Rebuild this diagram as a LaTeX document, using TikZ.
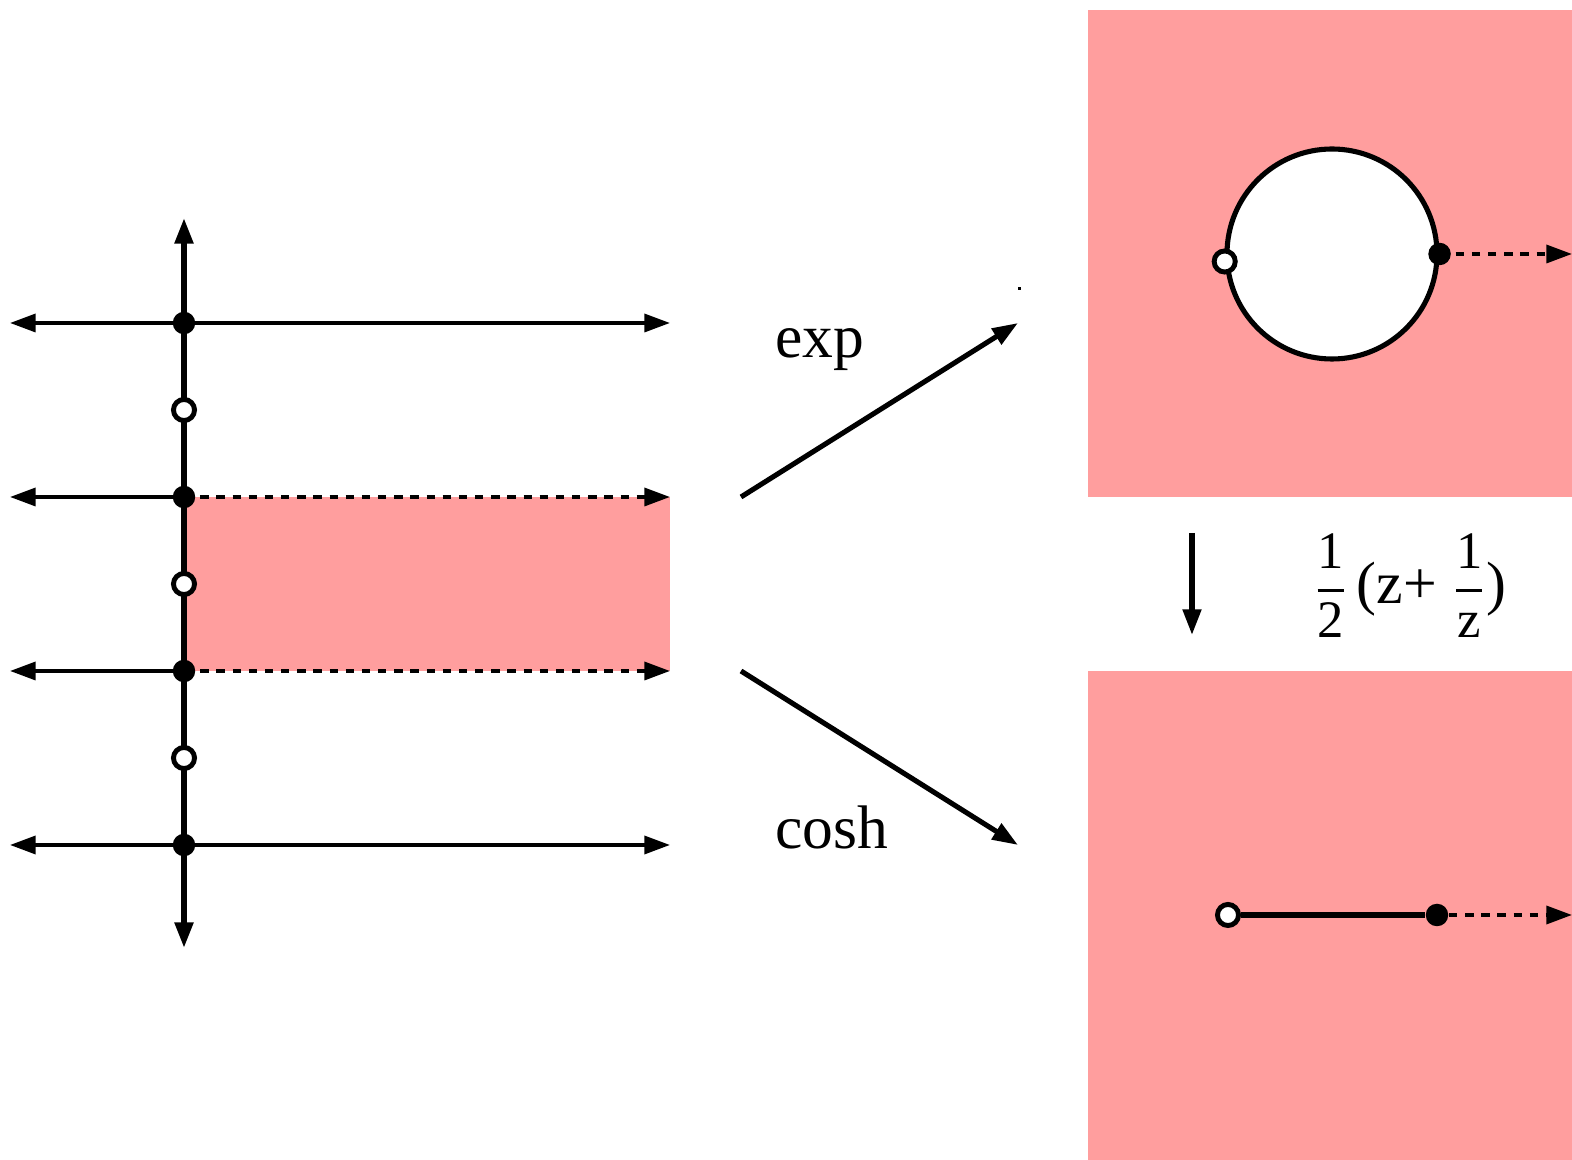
\documentclass[tikz,border=0pt]{standalone}
\usepackage{amsmath}
\usepackage{fontspec}
\setmainfont{Liberation Serif}
\usepackage{tikz}
\usetikzlibrary{arrows.meta, positioning, calc}

\definecolor{region}{RGB}{255,158,158}

\tikzset{
    tip/.style={-{Triangle[length=7.3pt,width=5.1pt]}},
    axisline/.style={line width=1.6pt},
    gridline/.style={line width=1.05pt},
    dashline/.style={line width=1.05pt, dash pattern=on 2.4pt off 2.2pt},
    mapline/.style={line width=1.45pt},
    fdot/.style={circle, fill=black, inner sep=0pt, minimum size=6.4pt},
    odot/.style={circle, draw=black, fill=white, line width=1.4pt, inner sep=0pt, minimum size=6.0pt},
    maplabel/.style={font=\fontsize{17.5}{20}\selectfont}
}

\begin{document}
\begin{tikzpicture}[x=1cm, y=1cm]
    \useasboundingbox (0,0) rectangle (15.72,11.60);

    % Strip in the z-plane
    \fill[region] (1.84,4.89) rectangle (6.70,6.63);

    % Target planes
    \fill[region] (10.88,6.63) rectangle (15.72,11.50);
    \fill[region] (10.88,0) rectangle (15.72,4.89);

    % Points on the imaginary axis
    \coordinate (top) at (1.84,9.42);
    \coordinate (bot) at (1.84,2.12);
    \foreach \n/\y in {1/8.37, 2/6.63, 3/4.89, 4/3.15} {
        \coordinate (l\n) at (0.10,\y);
        \coordinate (r\n) at (6.70,\y);
        \coordinate (c\n) at (1.84,\y);
    }

    % Horizontal lines
    \draw[gridline, tip] (c1) -- (l1);
    \draw[gridline, tip] (c1) -- (r1);
    \draw[gridline, tip] (c2) -- (l2);
    \draw[dashline, tip] (c2) -- (r2);
    \draw[gridline, tip] (c3) -- (l3);
    \draw[dashline, tip] (c3) -- (r3);
    \draw[gridline, tip] (c4) -- (l4);
    \draw[gridline, tip] (c4) -- (r4);

    % Vertical axis
    \draw[axisline, tip] (c2) -- (top);
    \draw[axisline, tip] (c3) -- (bot);
    \draw[axisline] (c2) -- (c3);

    \foreach \n in {1,2,3,4} \node[fdot] (f\n) at (c\n) {};
    \node[odot] (o1) at (1.84,7.50) {};
    \node[odot] (o2) at (1.84,5.76) {};
    \node[odot] (o3) at (1.84,4.02) {};

    % Maps
    \coordinate (exps) at (7.41,6.63);
    \coordinate (expe) at (10.18,8.37);
    \coordinate (coss) at (7.41,4.89);
    \coordinate (cose) at (10.18,3.15);
    \draw[mapline, tip] (exps) -- (expe);
    \draw[mapline, tip] (coss) -- (cose);
    \node[maplabel] (explbl) at (8.20,8.10) {exp};
    \node[maplabel] (coshlbl) at (8.32,3.33) {cosh};
    \fill (10.175,8.695) rectangle (10.205,8.725);

    % Unit circle under exp
    \node[circle, draw=black, fill=white, line width=1.45pt, minimum size=2.1cm, inner sep=0pt] (ucirc) at (13.32,9.06) {};
    \coordinate (rayend) at (15.72,9.06);
    \draw[dashline, tip] (ucirc.east) -- (rayend);
    \node[fdot] (cf) at (ucirc.east) {};
    \node[odot] (co) at (ucirc.184) {};

    % Joukowski map
    \coordinate (jtop) at (11.92,6.27);
    \coordinate (jbot) at (11.92,5.25);
    \draw[mapline, tip] (jtop) -- (jbot);
    \node[font=\fontsize{15}{17}\selectfont] (jlbl) at (14.10,5.74)
        {$\displaystyle\frac{\text{1}}{\text{2}}\,\text{\fontsize{17}{19}\selectfont(z+ }\frac{\text{1}}{\text{z}}\text{\fontsize{17}{19}\selectfont)}$};

    % Slit under cosh
    \node[odot] (so) at (12.28,2.45) {};
    \node[fdot] (sf) at (14.37,2.45) {};
    \coordinate (slitend) at (15.72,2.45);
    \draw[mapline] (so) -- (sf);
    \draw[dashline, tip] (sf) -- (slitend);
\end{tikzpicture}
\end{document}
